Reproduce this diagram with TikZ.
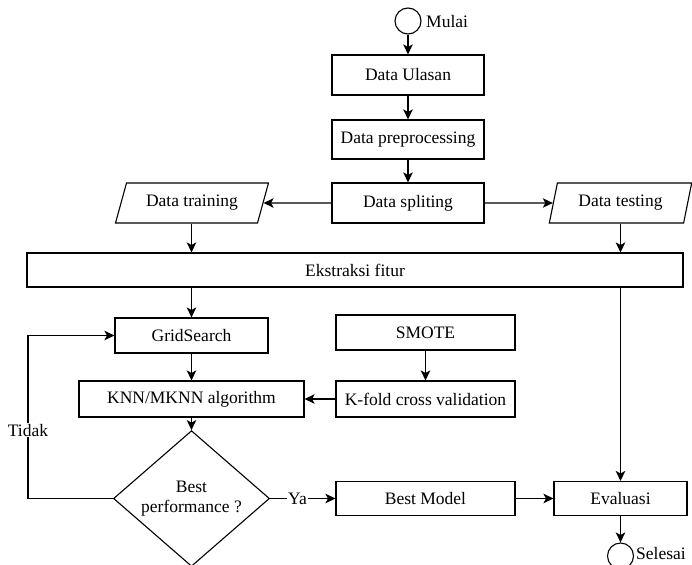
\documentclass[tikz,border=0pt]{standalone}
\usepackage{fontspec}
\setmainfont{Liberation Serif}
\usetikzlibrary{shapes.geometric,arrows.meta}
\begin{document}
\begin{tikzpicture}[x=1pt,y=-1pt,
  every node/.style={font=\fontsize{17.5}{20}\selectfont},
  box/.style={draw, line width=1.1pt, rectangle, inner sep=0pt, align=center},
  io/.style={draw, line width=1.1pt, trapezium, trapezium stretches=true, inner sep=0pt},
  term/.style={draw, line width=1.1pt, circle, minimum size=26pt, inner sep=0pt},
  arr/.style={line width=1.1pt, -{Stealth[length=10pt,width=9.5pt,inset=2.5pt]}},
  lbl/.style={fill=white, inner sep=1pt}]
\useasboundingbox (0,0) rectangle (692,564);

\node[term] (start) at (408,21) {};
\node[anchor=west, inner sep=0pt] (startlbl) at (426,22) {Mulai};
\node[box, minimum width=152pt, minimum height=40pt] (ulasan) at (408,75) {Data Ulasan};
\node[box, minimum width=152pt, minimum height=39pt] (prep) at (408,139.5) {Data preprocessing};
\node[box, minimum width=152pt, minimum height=40pt] (split) at (408,203) {Data spliting};
\node[io, trapezium left angle=63.4, trapezium right angle=116.6, minimum width=153pt, minimum height=40pt] (train) at (192,203) {Data training};
\node[io, trapezium left angle=70.7, trapezium right angle=109.3, minimum width=143pt, minimum height=40pt] (test) at (620.5,203) {Data testing};
\node[box, minimum width=656pt, minimum height=34pt] (ekstr) at (355,270) {Ekstraksi fitur};
\node[box, minimum width=153pt, minimum height=35pt] (grid) at (191.5,335.5) {GridSearch};
\node[box, minimum width=179pt, minimum height=35pt] (smote) at (425.5,332.5) {SMOTE};
\node[box, minimum width=225pt, minimum height=36pt] (knn) at (191.5,399) {KNN/MKNN algorithm};
\node[box, minimum width=179pt, minimum height=36pt] (kfold) at (425.5,399) {K-fold cross validation};
\node[draw, line width=1.1pt, diamond, minimum width=156pt, minimum height=120pt, inner sep=0pt, align=center] (dec) at (191.5,498.5) {Best\\performance ?};
\node[box, minimum width=179pt, minimum height=34pt] (best) at (425.5,498.5) {Best Model};
\node[box, minimum width=133pt, minimum height=34pt] (eval) at (620.5,498.5) {Evaluasi};
\node[term] (end) at (620.5,556) {};
\node[anchor=west, inner sep=0pt] (endlbl) at (636,553.5) {Selesai};

\draw[arr] (start) -- (ulasan);
\draw[arr] (ulasan) -- (prep);
\draw[arr] (prep) -- (split);
\draw[arr] (split) -- (train);
\draw[arr] (split) -- (test);
\draw[arr] (grid.north |- train.south) -- (grid.north |- ekstr.north);
\draw[arr] (test.south) -- (test.south |- ekstr.north);
\draw[arr] (ekstr.south -| grid.north) -- (grid.north);
\draw[arr] (ekstr.south -| eval.north) -- (eval.north);
\draw[arr] (grid) -- (knn);
\draw[arr] (smote) -- (kfold);
\draw[arr] (kfold) -- (knn);
\draw[arr] (knn) -- (dec);
\coordinate (lp) at (28,498.5);
\draw[arr] (dec.west) -- (lp) |- node[pos=0.21, lbl] {Tidak} (grid.west);
\draw[arr] (dec.east) -- node[pos=0.42, lbl] {Ya} (best.west);
\draw[arr] (best) -- (eval);
\draw[arr] (eval) -- (end);
\end{tikzpicture}
\end{document}
